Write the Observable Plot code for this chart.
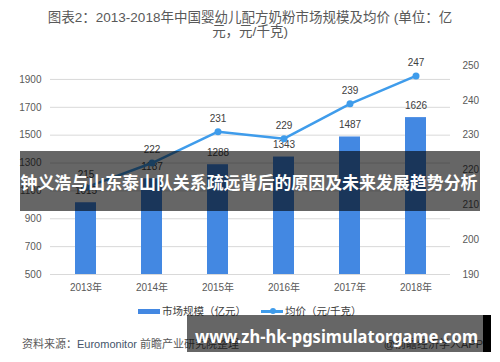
<!DOCTYPE html>
<html>
<head>
<meta charset="utf-8">
<script src="https://cdn.jsdelivr.net/npm/d3@7"></script>
<script src="https://cdn.jsdelivr.net/npm/@observablehq/plot@0.6"></script>
<style>
  html, body { margin: 0; padding: 0; background: #fff; }
  #wrap { position: relative; width: 500px; height: 362px; overflow: hidden; background: #fff;
    font-family: "Liberation Sans", "Noto Sans CJK SC", sans-serif; color: #595959; }
  #chart { position: absolute; left: 0; top: 0; }
  .abs { position: absolute; white-space: nowrap; }
  #title { left: 0; width: 500px; top: 11px; text-align: center; font-size: 13.5px; line-height: 14px; color: #595959; }
  .leg { font-size: 10.5px; line-height: 12px; color: #404040; }
  #source { left: 22px; top: 337px; font-size: 11px; line-height: 14px; color: #595959; }
  #source .en { color: #44546a; }
  #app { right: 17px; top: 337px; font-size: 11px; line-height: 14px; color: #595959; }
  #overlay { position: absolute; left: 0; top: 0; pointer-events: none; }
</style>
</head>
<body>
<div id="wrap">
  <div id="chart"></div>
  <div id="title" class="abs">图表2：2013-2018年中国婴幼儿配方奶粉市场规模及均价 (单位：亿<br>元，元/千克)</div>
  <div class="abs" style="left:138px;top:308.5px;width:22px;height:5px;background:#4388e2;"></div>
  <div class="abs leg" style="left:162px;top:305px;">市场规模（亿元）</div>
  <div class="abs" style="left:261px;top:310px;width:22px;height:2.5px;background:#3f9ceb;"></div>
  <div class="abs" style="left:270px;top:308px;width:6px;height:6px;border-radius:3px;background:#3f9ceb;"></div>
  <div class="abs leg" style="left:285px;top:305px;">均价（元/千克）</div>
  <div id="source" class="abs">资料来源：<span class="en">Euromonitor</span> 前瞻产业研究院整理</div>
  <div id="app" class="abs">@前瞻经济学人APP</div>
  <svg id="overlay" width="500" height="362">
    <rect x="20" y="151" width="460" height="60" fill="rgba(0,0,0,0.6)"></rect>
    <text x="249" y="188.5" text-anchor="middle" fill="#fff" font-weight="bold" font-size="17.5"
      font-family="Noto Sans CJK SC, sans-serif" textLength="457" lengthAdjust="spacingAndGlyphs">钟义浩与山东泰山队关系疏远背后的原因及未来发展趋势分析</text>
    <rect x="187" y="315" width="296" height="37" fill="rgba(0,0,0,0.6)"></rect>
    <rect x="483" y="315" width="8" height="37" fill="#000"></rect>
    <text x="195" y="343" fill="#fff" font-weight="bold" font-size="18"
      font-family="Noto Sans, sans-serif" textLength="283" lengthAdjust="spacingAndGlyphs">www.zh-hk-pgsimulatorgame.com</text>
  </svg>
</div>
<script>
const years = ["2013年", "2014年", "2015年", "2016年", "2017年", "2018年"];
const marketSize = [1015, 1187, 1288, 1343, 1487, 1626];
const avgPrice = [215, 222, 231, 229, 239, 247];
const leftTicks = [500, 700, 900, 1100, 1300, 1500, 1700, 1900];
const rightTicks = [190, 200, 210, 220, 230, 240, 250];

// map the right-axis (price) values onto the left scale: 190..250 -> 500..2000
const toLeft = v => 500 + (v - 190) * 25;
const fromLeft = d => Math.round(190 + (d - 500) / 25);

const data = years.map((y, i) => ({
  year: y, size: marketSize[i], price: avgPrice[i], priceL: toLeft(avgPrice[i])
}));

const barColor = "#4388e2";
const lineColor = "#3f9ceb";

const chart = Plot.plot({
  width: 500,
  height: 362,
  marginTop: 65,
  marginBottom: 88,
  marginLeft: 50,
  marginRight: 50,
  style: { fontFamily: "'Liberation Sans', 'Noto Sans CJK SC', sans-serif", fontSize: "10px", color: "#595959", background: "transparent" },
  x: { type: "band", domain: years, paddingInner: 0.685, paddingOuter: 0.3425, label: null },
  y: { domain: [500, 2000], label: null },
  marks: [
    Plot.gridY(leftTicks, { stroke: "#d9d9d9", strokeOpacity: 1 }),
    Plot.barY(data, { x: "year", y1: 500, y2: "size", fill: barColor }),
    Plot.text(data, { x: "year", y: "size", text: d => String(d.size), dy: -12, fill: "#404040" }),
    Plot.lineY(data, { x: "year", y: "priceL", stroke: lineColor, strokeWidth: 2.5 }),
    Plot.dot(data, { x: "year", y: "priceL", r: 3.5, fill: lineColor }),
    Plot.text(data, { x: "year", y: "priceL", text: d => String(d.price), dy: -13, fill: "#404040" }),
    Plot.axisY(leftTicks, { anchor: "left", tickSize: 0, tickPadding: 9, tickFormat: d => String(d), label: null }),
    Plot.axisY(rightTicks.map(toLeft), { anchor: "right", tickSize: 0, tickPadding: 12, tickFormat: d => String(fromLeft(d)), label: null }),
    Plot.axisX({ tickSize: 0, tickPadding: 9, label: null })
  ]
});
document.getElementById("chart").appendChild(chart);
</script>
</body>
</html>
